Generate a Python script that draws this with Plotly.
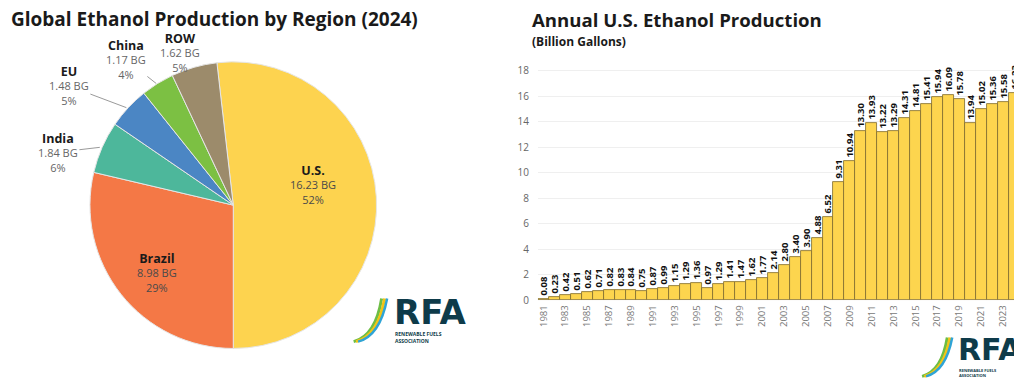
import math
import plotly.graph_objects as go

# ---------------- data ----------------
regions = ["U.S.", "Brazil", "India", "EU", "China", "ROW"]
region_bg = [16.23, 8.98, 1.84, 1.48, 1.17, 1.62]
region_colors = ["#FDD34F", "#F47846", "#4DB79B", "#4B86C4", "#7CC043", "#9C8B6B"]

years = list(range(1981, 2025))
us_production = [0.08, 0.23, 0.42, 0.51, 0.62, 0.71, 0.82, 0.83, 0.84, 0.75,
                 0.87, 0.99, 1.15, 1.29, 1.36, 0.97, 1.29, 1.41, 1.47, 1.62,
                 1.77, 2.14, 2.80, 3.40, 3.90, 4.88, 6.52, 9.31, 10.94, 13.30,
                 13.93, 13.22, 13.29, 14.31, 14.81, 15.41, 15.94, 16.09, 15.78, 13.94,
                 15.02, 15.36, 15.58, 16.23]
y_ticks = [0, 2, 4, 6, 8, 10, 12, 14, 16, 18]
x_ticks = list(range(1981, 2025, 2))

W, H = 1014, 380
FONT = "Open Sans"


def px(x, y):
    return x / W, 1 - y / H


fig = go.Figure()

# ---------------- pie ----------------
total = sum(region_bg)
rotation = 180 - 360 * region_bg[0] / total
PCX, PCY, PR = 232.5, 209, 146
x0, y0 = px(PCX - PR, PCY - PR)
x1, y1 = px(PCX + PR, PCY + PR)
fig.add_trace(go.Pie(
    labels=regions,
    values=region_bg,
    sort=False,
    direction="clockwise",
    rotation=rotation,
    marker=dict(colors=region_colors, line=dict(color="#E6E6E6", width=1)),
    textinfo="none",
    domain=dict(x=[x0, x1], y=[y1, y0]),
    showlegend=False,
    hoverinfo="label+value+percent",
))

# ---------------- bars ----------------
fig.add_trace(go.Bar(
    x=years,
    y=us_production,
    marker=dict(color="#FDD54E", line=dict(color="#7d6b2e", width=0.8)),
    text=[f"{v:.2f}" for v in us_production],
    textposition="outside",
    textangle=-90,
    textfont=dict(family=FONT, size=9.5, color="#111", weight="bold"),
    constraintext="none",
    cliponaxis=True,
    xaxis="x",
    yaxis="y",
    showlegend=False,
))

xa0, _ = px(537.5, 0)
_, ya0 = px(0, 306)
_, ya_top = px(0, 59.1)
fig.update_layout(
    width=W, height=H,
    margin=dict(l=0, r=0, t=0, b=0),
    paper_bgcolor="white",
    plot_bgcolor="white",
    font=dict(family=FONT, color="#555"),
    bargap=0,
    xaxis=dict(
        domain=[xa0, 1.0],
        range=[1980.5, 2024.0],
        tickmode="array",
        tickvals=x_ticks,
        ticktext=[str(t) for t in x_ticks],
        tickangle=-90,
        tickfont=dict(family=FONT, size=9.5, color="#777"),
        ticklabelstandoff=2,
        showgrid=False,
        showline=False,
        zeroline=False,
        ticks="",
        anchor="y",
    ),
    yaxis=dict(
        domain=[ya0, ya_top],
        range=[0, 19],
        tickmode="array",
        tickvals=y_ticks,
        tickfont=dict(family=FONT, size=10, color="#666"),
        ticklabelstandoff=8,
        showgrid=True,
        gridcolor="#EFEFEF",
        gridwidth=1,
        zeroline=False,
        showline=False,
        ticks="",
        anchor="x",
    ),
)

annotations = []
tx, ty = px(8, 19)
annotations.append(dict(text="<b>Global Ethanol Production by Region (2024)</b>", x=tx, y=ty,
                        xref="paper", yref="paper", xanchor="left", yanchor="middle", showarrow=False,
                        font=dict(family=FONT, size=19, color="#1a1a1a")))
tx, ty = px(530, 20)
annotations.append(dict(text="<b>Annual U.S. Ethanol Production</b>", x=tx, y=ty,
                        xref="paper", yref="paper", xanchor="left", yanchor="middle", showarrow=False,
                        font=dict(family=FONT, size=18.6, color="#1a1a1a")))
tx, ty = px(530, 42)
annotations.append(dict(text="<b>(Billion Gallons)</b>", x=tx, y=ty,
                        xref="paper", yref="paper", xanchor="left", yanchor="middle", showarrow=False,
                        font=dict(family=FONT, size=12, color="#1a1a1a")))

# pie slice labels: text from data, tip of leader line from slice mid-angle
label_pos = {  # pixel centre of each label block
    "U.S.": (312, 188),
    "Brazil": (156, 278),
    "India": (57, 155),
    "EU": (68, 88),
    "China": (125, 61),
    "ROW": (179, 54),
}
cum = 0.0
for name, val in zip(regions, region_bg):
    mid = math.radians(rotation + 360 * (cum + val / 2) / total)
    cum += val
    tipx = PCX + PR * math.sin(mid)
    tipy = PCY - PR * math.cos(mid)
    lx, ly = label_pos[name]
    text = (f"<b><span style='font-size:12.5px;color:#1a1a1a'>{name}</span></b><br>"
            f"{val:.2f} BG<br>{round(100 * val / total)}%")
    inside = name in ("U.S.", "Brazil")
    if inside:
        ax_, ay_ = px(lx, ly)
        annotations.append(dict(text=text, x=ax_, y=ay_, xref="paper", yref="paper",
                                xanchor="center", yanchor="middle", showarrow=False,
                                font=dict(family=FONT, size=11, color="#4a4a4a")))
    else:
        tx_, ty_ = px(tipx, tipy)
        annotations.append(dict(text=text, x=tx_, y=ty_, xref="paper", yref="paper",
                                ax=lx - tipx, ay=ly - tipy, showarrow=True, arrowhead=0,
                                arrowwidth=1, arrowcolor="#9A9A9A", standoff=0, startstandoff=0,
                                font=dict(family=FONT, size=11, color="#666")))

shapes = []


def add_logo(lx, ly, scale):
    rx, ry = px(lx + 38 * scale, ly + 16 * scale)
    annotations.append(dict(text="<b>RFA</b>", x=rx, y=ry, xref="paper", yref="paper",
                            xanchor="left", yanchor="middle", showarrow=False,
                            font=dict(family="DejaVu Sans", size=int(34 * scale), color="#0E3B4A")))
    sx, sy = px(lx + 39 * scale, ly + 42 * scale)
    annotations.append(dict(text="<b>RENEWABLE FUELS<br>ASSOCIATION</b>", x=sx, y=sy, xref="paper", yref="paper",
                            xanchor="left", yanchor="middle", showarrow=False, align="left",
                            font=dict(family=FONT, size=max(4, int(5 * scale)), color="#0E3B4A")))
    for (dx, col, w) in [(0, "#6DBE45", 3), (6, "#F2C417", 3), (11, "#2FA4D6", 2.5)]:
        a = px(lx + (0 + dx * 0.4) * scale, ly + 46 * scale)
        c = px(lx + (22 + dx * 0.4) * scale, ly + 40 * scale)
        b = px(lx + (28 + dx * 0.5) * scale, ly + 2 * scale)
        shapes.append(dict(type="path", xref="paper", yref="paper",
                           path=f"M {a[0]},{a[1]} Q {c[0]},{c[1]} {b[0]},{b[1]}",
                           line=dict(color=col, width=w)))


add_logo(353, 302, 1.0)
add_logo(922, 342, 0.9)

fig.update_layout(annotations=annotations, shapes=shapes)

fig.write_html("out.html", config={"displayModeBar": False},
               post_script="document.body.style.margin='0';document.body.style.overflow='hidden';")
